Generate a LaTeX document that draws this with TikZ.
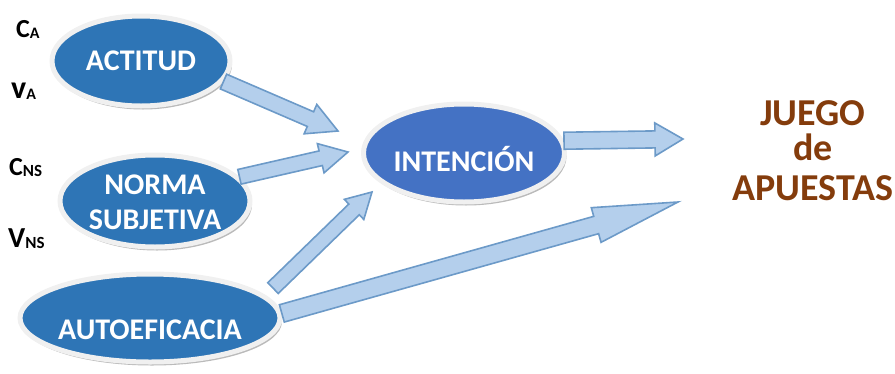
\documentclass[tikz,border=0pt]{standalone}
\usepackage{fontspec}
\setmainfont{Carlito}
\usetikzlibrary{shapes.geometric,shadows,calc}

\definecolor{ovalblue}{RGB}{46,117,182}
\definecolor{intblue}{RGB}{68,114,196}
\definecolor{rimgray}{RGB}{240,240,240}
\definecolor{arrowfill}{RGB}{180,207,236}
\definecolor{arrowline}{RGB}{108,154,200}
\definecolor{juegobrown}{RGB}{132,60,12}

\newcommand{\subidx}[2]{\raisebox{-1.5pt}{\fontsize{#1}{#1}\selectfont #2}}

\begin{document}
\begin{tikzpicture}[
    x=1pt, y=-1pt,
    oval/.style={ellipse, draw=rimgray, line width=5pt, fill=ovalblue, inner sep=0pt,
      text=white, align=center, font=\fontsize{30}{37}\selectfont\bfseries,
      drop shadow={shadow xshift=2pt, shadow yshift=-3.5pt, fill=black!45, opacity=0.6}},
    varlabel/.style={anchor=base west, inner sep=0pt, font=\fontsize{26}{26}\selectfont\bfseries},
    blockarrow/.style n args={3}{draw=arrowline, line width=1.6pt, fill=arrowfill,
      to path={
        ($(\tikztostart)!#1!90:(\tikztotarget)$)
        -- ($($(\tikztotarget)!#2!(\tikztostart)$)!#1!90:(\tikztotarget)$)
        -- ($($(\tikztotarget)!#2!(\tikztostart)$)!#3!90:(\tikztotarget)$)
        -- (\tikztotarget)
        -- ($($(\tikztotarget)!#2!(\tikztostart)$)!#3!-90:(\tikztotarget)$)
        -- ($($(\tikztotarget)!#2!(\tikztostart)$)!#1!-90:(\tikztotarget)$)
        -- ($(\tikztostart)!#1!-90:(\tikztotarget)$)
        -- cycle}},
]
    \useasboundingbox (0,0) rectangle (895,373);

    % Factors
    \node[oval, minimum width=178pt, minimum height=90pt] (actitud) at (141,61) {ACTITUD};
    \node[oval, minimum width=190pt, minimum height=92pt] (norma) at (155,201)
        {\raisebox{-2pt}[\height][\depth]{NORMA}\\SUBJETIVA};
    \node[oval, minimum width=260pt, minimum height=88pt] (auto) at (150,318)
        {\raisebox{-12pt}[\height][\depth]{AUTOEFICACIA}};

    % Intention
    \node[oval, fill=intblue, minimum width=201pt, minimum height=98pt] (intencion) at (464,153)
        {\raisebox{-6pt}[\height][\depth]{INTENCIÓN}};

    % Behaviour
    \node[text=juegobrown, align=center, font=\fontsize{38}{35}\selectfont\bfseries] (juego) at (813,151)
        {JUEGO\\de\\[5pt]APUESTAS};

    % Beliefs and values
    \node[varlabel] (ca) at (16,37) {C\subidx{16}{A}};
    \node[varlabel, font=\fontsize{32}{32}\selectfont\bfseries] (va) at (11,98) {v\subidx{16}{A}};
    \node[varlabel] (cns) at (9,175) {C\subidx{17}{NS}};
    \node[varlabel, font=\fontsize{29}{29}\selectfont\bfseries] (vns) at (8,247) {V\subidx{17}{NS}};

    % Arrow ends
    \coordinate (base3) at ($(auto.14)+(15,-3)$);
    \coordinate (tip1) at (338,131);
    \coordinate (tip2) at (348,152);
    \coordinate (tip3) at (372,192);
    \coordinate (tip4) at (678,202);
    \coordinate (tip5) at (683,139);

    % Connections
    \draw[blockarrow={8pt}{30pt}{16pt}] (actitud.-14) to (tip1);
    \draw[blockarrow={7.5pt}{28pt}{15pt}] (norma.16) to (tip2);
    \draw[blockarrow={7.5pt}{25pt}{14pt}] (base3) to (tip3);
    \draw[blockarrow={9pt}{85pt}{18pt}] (auto.2) to (tip4);
    \draw[blockarrow={8.5pt}{28pt}{16.5pt}] (intencion.7) to (tip5);
\end{tikzpicture}
\end{document}
